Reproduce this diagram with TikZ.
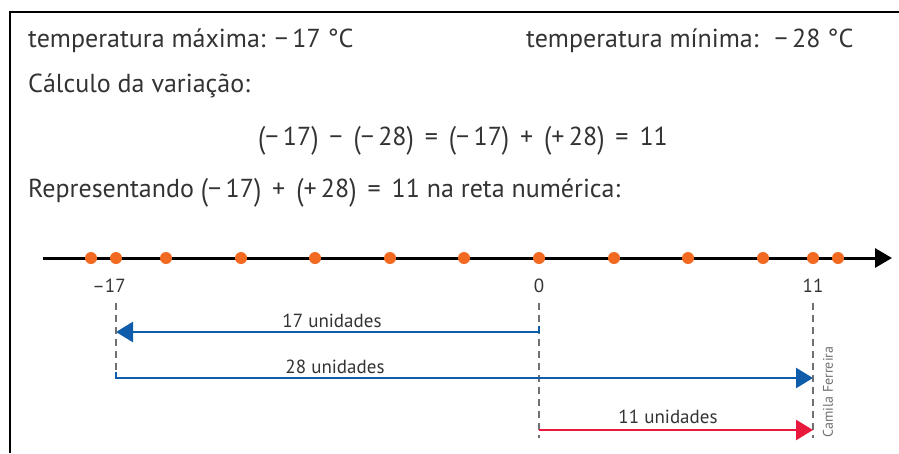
\documentclass[tikz,border=0pt]{standalone}
\usepackage{fontspec}
\setmainfont{PT Sans}
\usetikzlibrary{arrows.meta}
\definecolor{txt}{HTML}{333333}
\definecolor{dotc}{HTML}{F26A21}
\definecolor{bluec}{HTML}{0F5DAA}
\definecolor{redc}{HTML}{E8193C}
\definecolor{dashc}{HTML}{707070}
\newcommand{\myop}[1]{\hspace{0.42em}#1\hspace{0.42em}}
\newcommand{\mylp}{\raisebox{-0.12em}{\scalebox{1}[1.2]{(}}}
\newcommand{\myrp}{\raisebox{-0.12em}{\scalebox{1}[1.2]{)}}}
\tikzset{
  big/.style={font=\fontsize{26}{29}\selectfont, text=txt, inner sep=0pt},
  numlab/.style={font=\fontsize{19}{22}\selectfont, text=txt, inner sep=0pt, anchor=base},
  unlab/.style={font=\fontsize{19}{22}\selectfont, text=txt, inner sep=0pt, anchor=base},
  dot/.style={circle, fill=dotc, minimum size=12pt, inner sep=0pt},
  guide/.style={dashc, line width=1.4pt, dash pattern=on 7pt off 5pt},
  bluearr/.style={bluec, line width=2.6pt, -{Triangle[length=17pt,width=20pt]}},
  redarr/.style={redc, line width=2.6pt, -{Triangle[length=17pt,width=20pt]}},
}
\begin{document}
\begin{tikzpicture}[x=1pt,y=-1pt]
\useasboundingbox (0,0) rectangle (899,453);
% frame
\draw[line width=2pt] (10,453) -- (10,12) -- (899,12);
% texts
\node[big, anchor=base west] (t1) at (28,47) {temperatura máxima: −\,17 °C};
\node[big, anchor=base west] (t2) at (526,47) {temperatura mínima: \ −\,28 °C};
\node[big, anchor=base west] (t3) at (28,92) {Cálculo da variação:};
\node[big, anchor=base west] (t4) at (258,145) {\mylp−\,17\myrp\myop{−}\mylp−\,28\myrp\myop{=}\mylp−\,17\myrp\myop{+}\mylp+\,28\myrp\myop{=}11};
\node[big, anchor=base west] (t5) at (28,197) {Representando \mylp−\,17\myrp\myop{+}\mylp+\,28\myrp\myop{=}11 na reta numérica:};
% number line
\coordinate (nl0) at (43,258);
\coordinate (nl1) at (892,258);
\draw[line width=3pt, -{Triangle[length=17pt,width=19pt]}] (nl0) -- (nl1);
\foreach \i/\x in {1/91,2/116,3/166,4/241,5/315,6/390,7/464,8/539,9/614,10/688,11/763,12/813,13/838}{
  \node[dot] (d\i) at (\x,258) {};
}
\node[numlab] (lm17) at (109,292) {–17};
\node[numlab] (l0) at (539,292) {0};
\node[numlab] (l11) at (813,292) {11};
% guides
\coordinate (g1a) at (116,303); \coordinate (g1b) at (116,378);
\coordinate (g2a) at (539,303); \coordinate (g2b) at (539,438);
\coordinate (g3a) at (813,303); \coordinate (g3b) at (813,438);
\draw[guide] (g1a) -- (g1b);
\draw[guide] (g2a) -- (g2b);
\draw[guide] (g3a) -- (g3b);
% arrows
\coordinate (a1c) at (539,326); \coordinate (a1s) at (539,332); \coordinate (a1e) at (116,332);
\coordinate (a2c) at (116,372); \coordinate (a2s) at (116,378); \coordinate (a2e) at (813,378);
\coordinate (a3s) at (539,430); \coordinate (a3e) at (813,430);
\draw[bluearr] (a1c) -- (a1s) -- (a1e);
\draw[bluearr] (a2c) -- (a2s) -- (a2e);
\draw[redarr] (a3s) -- (a3e);
\node[unlab] (u17) at (332,327) {17 unidades};
\node[unlab] (u28) at (335,373) {28 unidades};
\node[unlab] (u11) at (668,423) {11 unidades};
\node[font=\fontsize{14}{16}\selectfont, text=dashc, rotate=90, inner sep=0pt] (cred) at (828,392) {Camila Ferreira};
\end{tikzpicture}
\end{document}
